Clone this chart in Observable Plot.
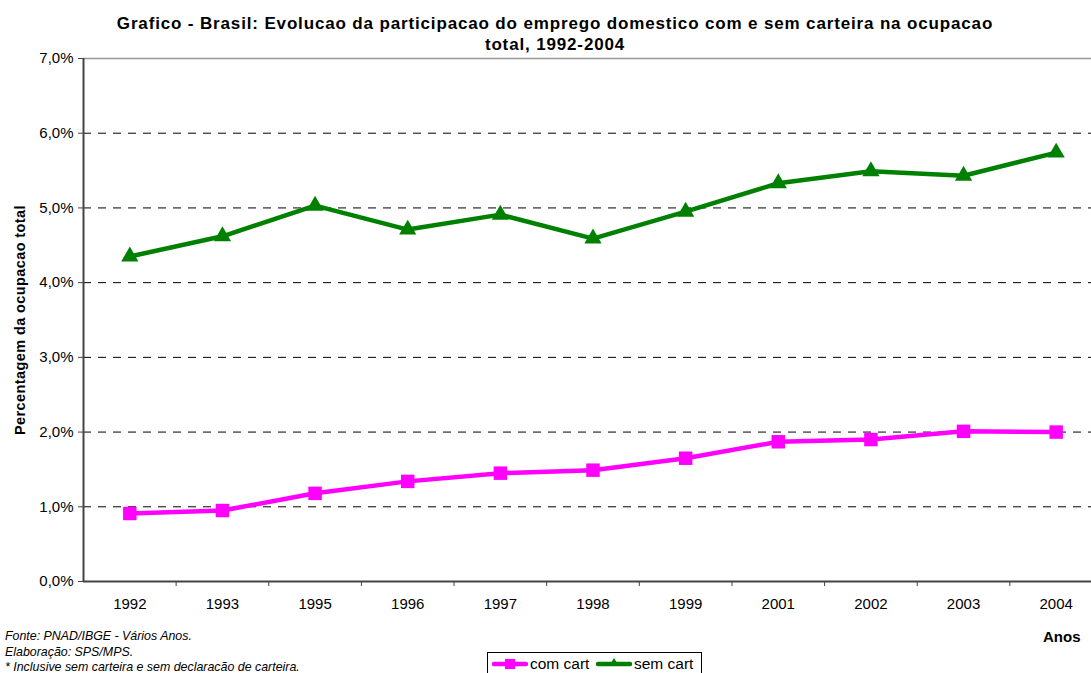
<!DOCTYPE html>
<html>
<head>
<meta charset="utf-8">
<script src="https://cdn.jsdelivr.net/npm/d3@7"></script>
<script src="https://cdn.jsdelivr.net/npm/@observablehq/plot@0.6"></script>
<style>
  html, body { margin: 0; padding: 0; background: #fff; }
  #wrap { position: relative; width: 1091px; height: 673px; overflow: hidden; font-family: "Liberation Sans", Arial, sans-serif; color: #000; }
  #chart { position: absolute; left: 0; top: 0; }
  #title { position: absolute; left: 20px; width: 1070px; top: 13px; text-align: center; font-weight: bold; font-size: 17px; letter-spacing: 0.85px; line-height: 21px; }
  #ylabel { position: absolute; left: 20px; top: 320px; transform: translate(-50%, -50%) rotate(-90deg); white-space: nowrap; font-weight: bold; font-size: 14.5px; letter-spacing: 0.4px; }
  #notes { position: absolute; left: 5px; top: 629px; font-style: italic; font-size: 12.4px; line-height: 15.5px; white-space: nowrap; }
  #anos { position: absolute; left: 1043px; top: 628px; font-weight: bold; font-size: 15px; }
  #legend { position: absolute; left: 487px; top: 652px; width: 215px; height: 30px; border: 1px solid #000; box-sizing: border-box; font-size: 15.5px; }
  #legend .item { position: absolute; top: 1px; display: flex; align-items: center; height: 20px; }
  #legend svg { display: block; }
</style>
</head>
<body>
<div id="wrap">
  <div id="chart"></div>
  <div id="title">Grafico - Brasil: Evolucao da participacao do emprego domestico com e sem carteira na ocupacao<br>total, 1992-2004</div>
  <div id="ylabel">Percentagem da ocupacao total</div>
  <div id="notes">Fonte: PNAD/IBGE - Vários Anos.<br>Elaboração: SPS/MPS.<br>* Inclusive sem carteira e sem declaracão de carteira.</div>
  <div id="anos">Anos</div>
  <div id="legend"></div>
</div>
<script>
// ---- data ----
const years = ["1992","1993","1995","1996","1997","1998","1999","2001","2002","2003","2004"];
const comCart = [0.91, 0.95, 1.18, 1.34, 1.45, 1.49, 1.65, 1.87, 1.90, 2.01, 2.00];
const semCart = [4.35, 4.62, 5.03, 4.71, 4.91, 4.59, 4.95, 5.33, 5.49, 5.43, 5.74];
const yTicks = [0, 1, 2, 3, 4, 5, 6, 7];
const seriesNames = ["com cart", "sem cart"];
const seriesColors = ["#FF00FF", "#008000"];

const rows = years.flatMap((y, i) => [
  {year: y, value: comCart[i], serie: seriesNames[0]},
  {year: y, value: semCart[i], serie: seriesNames[1]}
]);

const W = 1091, H = 673;
const plotLeft = 83, plotTop = 58, plotBottom = 581;
const xRange = [83, 1102];
const step = (xRange[1] - xRange[0]) / years.length;
const fmt = d => d.toFixed(1).replace(".", ",") + "%";
const axisColor = "#444";

const chart = Plot.plot({
  width: W,
  height: H,
  marginLeft: plotLeft,
  marginTop: plotTop,
  marginBottom: H - plotBottom,
  marginRight: 0,
  style: {fontFamily: "Liberation Sans, Arial, sans-serif", fontSize: "15px", color: "#000", background: "transparent", overflow: "visible"},
  x: {type: "band", domain: years, range: xRange, padding: 0, round: false},
  y: {domain: [0, 7]},
  color: {domain: seriesNames, range: seriesColors},
  marks: [
    Plot.ruleY(yTicks.filter(d => d > 0 && d < 7), {stroke: "#000", strokeWidth: 1, strokeDasharray: "8,7"}),
    Plot.ruleY([7], {stroke: "#999", strokeWidth: 1.5}),
    Plot.ruleY([0], {stroke: axisColor, strokeWidth: 2}),
    Plot.ruleX([years[0]], {y1: 0, y2: 7, dx: -step / 2, stroke: axisColor, strokeWidth: 2}),
    Plot.axisY({ticks: yTicks, tickSize: 5, tickPadding: 5, tickFormat: fmt, label: null, stroke: axisColor, fontSize: 15, letterSpacing: 0.6}),
    Plot.axisX({tickSize: 0, tickPadding: 17, label: null, fontSize: 15, letterSpacing: 0.8}),
    Plot.axisX(years.slice(1), {tickSize: 5, dx: -step / 2, tickFormat: () => "", label: null, stroke: axisColor}),
    Plot.line(rows, {x: "year", y: "value", z: "serie", stroke: "serie", strokeWidth: 4.5, strokeLinejoin: "round"}),
    Plot.dot(rows.filter(d => d.serie === seriesNames[0]), {x: "year", y: "value", symbol: "square", r: 7.6, fill: "serie", stroke: "none"}),
    Plot.dot(rows.filter(d => d.serie === seriesNames[1]), {x: "year", y: "value", symbol: "triangle", r: 6.4, fill: "serie", stroke: "none"})
  ]
});
document.getElementById("chart").appendChild(chart);

// ---- legend ----
const legend = document.getElementById("legend");
const legendPos = [4, 108];
seriesNames.forEach((name, i) => {
  const item = document.createElement("div");
  item.className = "item";
  item.style.left = legendPos[i] + "px";
  const color = seriesColors[i];
  const glyph = i === 0
    ? `<rect x="13" y="5" width="10" height="10" fill="${color}"/>`
    : `<path d="M18,4 L23,12 L13,12 Z" fill="${color}"/>`;
  item.innerHTML = `<svg width="36" height="20"><line x1="2" x2="34" y1="10" y2="10" stroke="${color}" stroke-width="4.5" stroke-linecap="round"/>${glyph}</svg><span style="margin-left:2px">${name}</span>`;
  legend.appendChild(item);
});
</script>
</body>
</html>
